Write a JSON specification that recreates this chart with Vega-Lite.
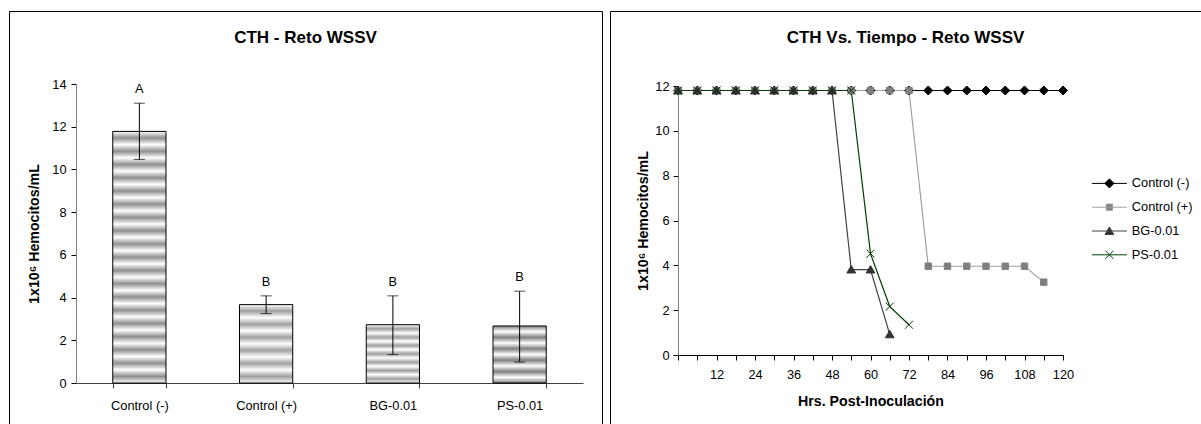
{
  "$schema": "https://vega.github.io/schema/vega-lite/v6.json",
  "padding": {"left": 8, "top": 10, "right": 3, "bottom": 0},
  "autosize": {"type": "pad"},
  "background": "white",
  "spacing": 6,
  "config": {
    "view": {"stroke": "#000000", "strokeWidth": 1},
    "font": "Liberation Sans",
    "axis": {"labelFont": "Liberation Sans", "titleFont": "Liberation Sans", "labelFontSize": 12.8, "titleFontSize": 14.2, "titleFontWeight": "bold", "labelColor": "#000000", "titleColor": "#000000", "tickColor": "#000000", "grid": false, "tickSize": 5},
    "title": {"font": "Liberation Sans", "fontSize": 17, "fontWeight": "bold", "color": "#000000", "anchor": "middle"},
    "text": {"font": "Liberation Sans"}
  },
  "datasets": {
    "bars": [
      {"grupo": "Control (-)", "media": 11.78, "lo": 10.47, "hi": 13.1, "letra": "A"},
      {"grupo": "Control (+)", "media": 3.67, "lo": 3.25, "hi": 4.08, "letra": "B"},
      {"grupo": "BG-0.01", "media": 2.73, "lo": 1.33, "hi": 4.08, "letra": "B"},
      {"grupo": "PS-0.01", "media": 2.67, "lo": 0.98, "hi": 4.3, "letra": "B"}
    ],
    "tiempo": [
      {"serie": "Control (-)", "hora": 0, "valor": 11.8},
      {"serie": "Control (-)", "hora": 6, "valor": 11.8},
      {"serie": "Control (-)", "hora": 12, "valor": 11.8},
      {"serie": "Control (-)", "hora": 18, "valor": 11.8},
      {"serie": "Control (-)", "hora": 24, "valor": 11.8},
      {"serie": "Control (-)", "hora": 30, "valor": 11.8},
      {"serie": "Control (-)", "hora": 36, "valor": 11.8},
      {"serie": "Control (-)", "hora": 42, "valor": 11.8},
      {"serie": "Control (-)", "hora": 48, "valor": 11.8},
      {"serie": "Control (-)", "hora": 54, "valor": 11.8},
      {"serie": "Control (-)", "hora": 60, "valor": 11.8},
      {"serie": "Control (-)", "hora": 66, "valor": 11.8},
      {"serie": "Control (-)", "hora": 72, "valor": 11.8},
      {"serie": "Control (-)", "hora": 78, "valor": 11.8},
      {"serie": "Control (-)", "hora": 84, "valor": 11.8},
      {"serie": "Control (-)", "hora": 90, "valor": 11.8},
      {"serie": "Control (-)", "hora": 96, "valor": 11.8},
      {"serie": "Control (-)", "hora": 102, "valor": 11.8},
      {"serie": "Control (-)", "hora": 108, "valor": 11.8},
      {"serie": "Control (-)", "hora": 114, "valor": 11.8},
      {"serie": "Control (-)", "hora": 120, "valor": 11.8},
      {"serie": "Control (+)", "hora": 0, "valor": 11.8},
      {"serie": "Control (+)", "hora": 6, "valor": 11.8},
      {"serie": "Control (+)", "hora": 12, "valor": 11.8},
      {"serie": "Control (+)", "hora": 18, "valor": 11.8},
      {"serie": "Control (+)", "hora": 24, "valor": 11.8},
      {"serie": "Control (+)", "hora": 30, "valor": 11.8},
      {"serie": "Control (+)", "hora": 36, "valor": 11.8},
      {"serie": "Control (+)", "hora": 42, "valor": 11.8},
      {"serie": "Control (+)", "hora": 48, "valor": 11.8},
      {"serie": "Control (+)", "hora": 54, "valor": 11.8},
      {"serie": "Control (+)", "hora": 60, "valor": 11.8},
      {"serie": "Control (+)", "hora": 66, "valor": 11.8},
      {"serie": "Control (+)", "hora": 72, "valor": 11.8},
      {"serie": "Control (+)", "hora": 78, "valor": 3.96},
      {"serie": "Control (+)", "hora": 84, "valor": 3.96},
      {"serie": "Control (+)", "hora": 90, "valor": 3.96},
      {"serie": "Control (+)", "hora": 96, "valor": 3.96},
      {"serie": "Control (+)", "hora": 102, "valor": 3.96},
      {"serie": "Control (+)", "hora": 108, "valor": 3.96},
      {"serie": "Control (+)", "hora": 114, "valor": 3.25},
      {"serie": "BG-0.01", "hora": 0, "valor": 11.8},
      {"serie": "BG-0.01", "hora": 6, "valor": 11.8},
      {"serie": "BG-0.01", "hora": 12, "valor": 11.8},
      {"serie": "BG-0.01", "hora": 18, "valor": 11.8},
      {"serie": "BG-0.01", "hora": 24, "valor": 11.8},
      {"serie": "BG-0.01", "hora": 30, "valor": 11.8},
      {"serie": "BG-0.01", "hora": 36, "valor": 11.8},
      {"serie": "BG-0.01", "hora": 42, "valor": 11.8},
      {"serie": "BG-0.01", "hora": 48, "valor": 11.8},
      {"serie": "BG-0.01", "hora": 54, "valor": 3.81},
      {"serie": "BG-0.01", "hora": 60, "valor": 3.81},
      {"serie": "BG-0.01", "hora": 66, "valor": 0.92},
      {"serie": "PS-0.01", "hora": 0, "valor": 11.8},
      {"serie": "PS-0.01", "hora": 6, "valor": 11.8},
      {"serie": "PS-0.01", "hora": 12, "valor": 11.8},
      {"serie": "PS-0.01", "hora": 18, "valor": 11.8},
      {"serie": "PS-0.01", "hora": 24, "valor": 11.8},
      {"serie": "PS-0.01", "hora": 30, "valor": 11.8},
      {"serie": "PS-0.01", "hora": 36, "valor": 11.8},
      {"serie": "PS-0.01", "hora": 42, "valor": 11.8},
      {"serie": "PS-0.01", "hora": 48, "valor": 11.8},
      {"serie": "PS-0.01", "hora": 54, "valor": 11.8},
      {"serie": "PS-0.01", "hora": 60, "valor": 4.52},
      {"serie": "PS-0.01", "hora": 66, "valor": 2.16},
      {"serie": "PS-0.01", "hora": 72, "valor": 1.35}
    ]
  },
  "hconcat": [
    {
      "width": 593,
      "height": 414,
      "title": {"text": "CTH - Reto WSSV", "offset": -36},
      "data": {"name": "bars"},
      "encoding": {
        "x": {
          "field": "grupo", "type": "nominal", "sort": null,
          "scale": {"domain": ["Control (-)", "Control (+)", "BG-0.01", "PS-0.01"], "range": [67, 574], "paddingInner": 0.58, "paddingOuter": 0.29},
          "axis": {"title": null, "labelAngle": 0, "tickBand": "extent", "offset": -42, "domainColor": "#404040", "tickColor": "#404040", "labelPadding": 11}
        }
      },
      "layer": [
        {
          "transform": [{"filter": "datum.grupo === 'Control (-)'"}],
          "mark": {"type": "bar", "stroke": "#000000", "strokeWidth": 1, "fill": {"gradient": "linear", "x1": 0, "y1": 0, "x2": 0, "y2": 1, "stops": [
            {"offset": 0, "color": "#ffffff"}, {"offset": 0.0263, "color": "#8f8f8f"}, {"offset": 0.0526, "color": "#ffffff"}, {"offset": 0.0789, "color": "#8f8f8f"}, {"offset": 0.1053, "color": "#ffffff"}, {"offset": 0.1316, "color": "#8f8f8f"}, {"offset": 0.1579, "color": "#ffffff"}, {"offset": 0.1842, "color": "#8f8f8f"}, {"offset": 0.2105, "color": "#ffffff"}, {"offset": 0.2368, "color": "#8f8f8f"}, {"offset": 0.2632, "color": "#ffffff"}, {"offset": 0.2895, "color": "#8f8f8f"}, {"offset": 0.3158, "color": "#ffffff"}, {"offset": 0.3421, "color": "#8f8f8f"}, {"offset": 0.3684, "color": "#ffffff"}, {"offset": 0.3947, "color": "#8f8f8f"}, {"offset": 0.4211, "color": "#ffffff"}, {"offset": 0.4474, "color": "#8f8f8f"}, {"offset": 0.4737, "color": "#ffffff"}, {"offset": 0.5, "color": "#8f8f8f"}, {"offset": 0.5263, "color": "#ffffff"}, {"offset": 0.5526, "color": "#8f8f8f"}, {"offset": 0.5789, "color": "#ffffff"}, {"offset": 0.6053, "color": "#8f8f8f"}, {"offset": 0.6316, "color": "#ffffff"}, {"offset": 0.6579, "color": "#8f8f8f"}, {"offset": 0.6842, "color": "#ffffff"}, {"offset": 0.7105, "color": "#8f8f8f"}, {"offset": 0.7368, "color": "#ffffff"}, {"offset": 0.7632, "color": "#8f8f8f"}, {"offset": 0.7895, "color": "#ffffff"}, {"offset": 0.8158, "color": "#8f8f8f"}, {"offset": 0.8421, "color": "#ffffff"}, {"offset": 0.8684, "color": "#8f8f8f"}, {"offset": 0.8947, "color": "#ffffff"}, {"offset": 0.9211, "color": "#8f8f8f"}, {"offset": 0.9474, "color": "#ffffff"}, {"offset": 0.9737, "color": "#8f8f8f"}, {"offset": 1, "color": "#ffffff"}
          ]}},
          "encoding": {
            "y": {"field": "media", "type": "quantitative", "title": "1x10⁶ Hemocitos/mL",
              "scale": {"domain": [0, 14], "range": [372, 73], "nice": false},
              "axis": {"offset": -67, "values": [0, 2, 4, 6, 8, 10, 12, 14], "domainColor": "#808080", "labelPadding": 5, "titlePadding": 10}}
          }
        },
        {
          "transform": [{"filter": "datum.grupo === 'Control (+)'"}],
          "mark": {"type": "bar", "stroke": "#000000", "strokeWidth": 1, "fill": {"gradient": "linear", "x1": 0, "y1": 0, "x2": 0, "y2": 1, "stops": [
            {"offset": 0, "color": "#ffffff"}, {"offset": 0.0833, "color": "#a0a0a0"}, {"offset": 0.1667, "color": "#ffffff"}, {"offset": 0.25, "color": "#a0a0a0"}, {"offset": 0.3333, "color": "#ffffff"}, {"offset": 0.4167, "color": "#a0a0a0"}, {"offset": 0.5, "color": "#ffffff"}, {"offset": 0.5833, "color": "#a0a0a0"}, {"offset": 0.6667, "color": "#ffffff"}, {"offset": 0.75, "color": "#a0a0a0"}, {"offset": 0.8333, "color": "#ffffff"}, {"offset": 0.9167, "color": "#a0a0a0"}, {"offset": 1, "color": "#ffffff"}
          ]}},
          "encoding": {"y": {"field": "media", "type": "quantitative", "title": "1x10⁶ Hemocitos/mL"}}
        },
        {
          "transform": [{"filter": "datum.grupo === 'BG-0.01'"}],
          "mark": {"type": "bar", "stroke": "#000000", "strokeWidth": 1, "fill": {"gradient": "linear", "x1": 0, "y1": 0, "x2": 0, "y2": 1, "stops": [
            {"offset": 0, "color": "#ffffff"}, {"offset": 0.0714, "color": "#a0a0a0"}, {"offset": 0.1429, "color": "#ffffff"}, {"offset": 0.2143, "color": "#a0a0a0"}, {"offset": 0.2857, "color": "#ffffff"}, {"offset": 0.3571, "color": "#a0a0a0"}, {"offset": 0.4286, "color": "#ffffff"}, {"offset": 0.5, "color": "#a0a0a0"}, {"offset": 0.5714, "color": "#ffffff"}, {"offset": 0.6429, "color": "#a0a0a0"}, {"offset": 0.7143, "color": "#ffffff"}, {"offset": 0.7857, "color": "#a0a0a0"}, {"offset": 0.8571, "color": "#ffffff"}, {"offset": 0.9286, "color": "#a0a0a0"}, {"offset": 1, "color": "#ffffff"}
          ]}},
          "encoding": {"y": {"field": "media", "type": "quantitative", "title": "1x10⁶ Hemocitos/mL"}}
        },
        {
          "transform": [{"filter": "datum.grupo === 'PS-0.01'"}],
          "mark": {"type": "bar", "stroke": "#000000", "strokeWidth": 1, "fill": {"gradient": "linear", "x1": 0, "y1": 0, "x2": 0, "y2": 1, "stops": [
            {"offset": 0, "color": "#808080"}, {"offset": 0.1, "color": "#ffffff"}, {"offset": 0.2, "color": "#808080"}, {"offset": 0.3, "color": "#ffffff"}, {"offset": 0.4, "color": "#808080"}, {"offset": 0.5, "color": "#ffffff"}, {"offset": 0.6, "color": "#808080"}, {"offset": 0.7, "color": "#ffffff"}, {"offset": 0.8, "color": "#808080"}, {"offset": 0.9, "color": "#ffffff"}, {"offset": 1, "color": "#808080"}
          ]}},
          "encoding": {"y": {"field": "media", "type": "quantitative", "title": "1x10⁶ Hemocitos/mL"}}
        },
        {
          "mark": {"type": "rule", "color": "#000000", "strokeWidth": 1},
          "encoding": {
            "y": {"field": "lo", "type": "quantitative", "title": "1x10⁶ Hemocitos/mL"},
            "y2": {"field": "hi"}
          }
        },
        {
          "mark": {"type": "tick", "color": "#000000", "size": 11, "thickness": 1},
          "encoding": {"y": {"field": "lo", "type": "quantitative", "title": "1x10⁶ Hemocitos/mL"}}
        },
        {
          "mark": {"type": "tick", "color": "#000000", "size": 11, "thickness": 1},
          "encoding": {"y": {"field": "hi", "type": "quantitative", "title": "1x10⁶ Hemocitos/mL"}}
        },
        {
          "mark": {"type": "text", "dy": -14, "fontSize": 12.8, "color": "#000000", "baseline": "middle"},
          "encoding": {
            "y": {"field": "hi", "type": "quantitative", "title": "1x10⁶ Hemocitos/mL"},
            "text": {"field": "letra"}
          }
        }
      ]
    },
    {
      "width": 591,
      "height": 414,
      "title": {"text": "CTH Vs. Tiempo - Reto WSSV", "offset": -36},
      "data": {"name": "tiempo"},
      "encoding": {
        "x": {"field": "hora", "type": "quantitative", "title": "Hrs. Post-Inoculación",
          "scale": {"domain": [0, 120], "range": [68, 453], "nice": false, "zero": true},
          "axis": {"offset": -70, "values": [0, 6, 12, 18, 24, 30, 36, 42, 48, 54, 60, 66, 72, 78, 84, 90, 96, 102, 108, 114, 120], "labelExpr": "datum.value % 12 === 0 && datum.value > 0 ? datum.label : ''", "domainColor": "#000000", "labelPadding": 8, "titlePadding": 14, "labelFlush": false, "labelOverlap": false}},
        "y": {"field": "valor", "type": "quantitative", "title": "1x10⁶ Hemocitos/mL",
          "scale": {"domain": [0, 12], "range": [344, 75], "nice": false},
          "axis": {"offset": -68, "values": [0, 2, 4, 6, 8, 10, 12], "domainColor": "#808080", "labelPadding": 4, "titlePadding": 4}}
      },
      "layer": [
        {
          "mark": {"type": "line", "interpolate": "linear"},
          "encoding": {
            "color": {"field": "serie", "type": "nominal",
              "scale": {"domain": ["Control (-)", "Control (+)", "BG-0.01", "PS-0.01"], "range": ["#000000", "#a0a0a0", "#404040", "#004000"]},
              "legend": {
                "orient": "none", "legendX": 1094, "legendY": 166, "title": null, "padding": 0,
                "symbolSize": 49, "labelOffset": 16, "rowPadding": 9.8,
                "labelFont": "Liberation Sans", "labelFontSize": 12.8, "labelColor": "#000000", "labelLimit": 200,
                "encode": {"symbols": {"update": {
                  "shape": {"signal": "datum.value === 'Control (-)' ? 'M-5,0H5M0,-1.3L1.3,0L0,1.3L-1.3,0Z' : datum.value === 'Control (+)' ? 'M-5,0H5M-0.9,-0.9H0.9V0.9H-0.9Z' : datum.value === 'BG-0.01' ? 'M-5,0H5M0,-1.15L1.25,1L-1.25,1Z' : 'M-5,0H5M-1.15,-1.15L1.15,1.15M-1.15,1.15L1.15,-1.15'"},
                  "fill": {"signal": "datum.value === 'Control (-)' ? '#000000' : datum.value === 'Control (+)' ? '#808080' : datum.value === 'BG-0.01' ? '#333333' : '#003300'"},
                  "stroke": {"signal": "datum.value === 'Control (-)' ? '#000000' : datum.value === 'Control (+)' ? '#9a9a9a' : datum.value === 'BG-0.01' ? '#333333' : '#003300'"},
                  "strokeWidth": {"value": 1},
                  "opacity": {"value": 1}
                }}}
              }},
            "strokeWidth": {"field": "serie", "type": "nominal",
              "scale": {"domain": ["PS-0.01", "BG-0.01", "Control (+)", "Control (-)"], "range": [1.2, 1.2, 1.8, 1.8]},
              "legend": null}
          }
        },
        {
          "transform": [{"calculate": "datum.serie", "as": "marcador"}],
          "mark": {"type": "point", "filled": true, "size": 64, "opacity": 1, "strokeWidth": 1},
          "encoding": {
            "shape": {"field": "marcador", "type": "nominal",
              "scale": {"domain": ["PS-0.01", "BG-0.01", "Control (+)", "Control (-)"], "range": ["M-1,-1L1,1M-1,1L1,-1", "M0,-1L1.1,0.85L-1.1,0.85Z", "M-0.8,-0.8H0.8V0.8H-0.8Z", "M0,-1.125L1.125,0L0,1.125L-1.125,0Z"]},
              "legend": null},
            "fill": {"field": "marcador", "type": "nominal",
              "scale": {"domain": ["PS-0.01", "BG-0.01", "Control (+)", "Control (-)"], "range": ["#003300", "#333333", "#808080", "#000000"]},
              "legend": null},
            "stroke": {"field": "marcador", "type": "nominal",
              "scale": {"domain": ["PS-0.01", "BG-0.01", "Control (+)", "Control (-)"], "range": ["#003300", "#333333", "#808080", "#000000"]},
              "legend": null}
          }
        }
      ]
    }
  ]
}
